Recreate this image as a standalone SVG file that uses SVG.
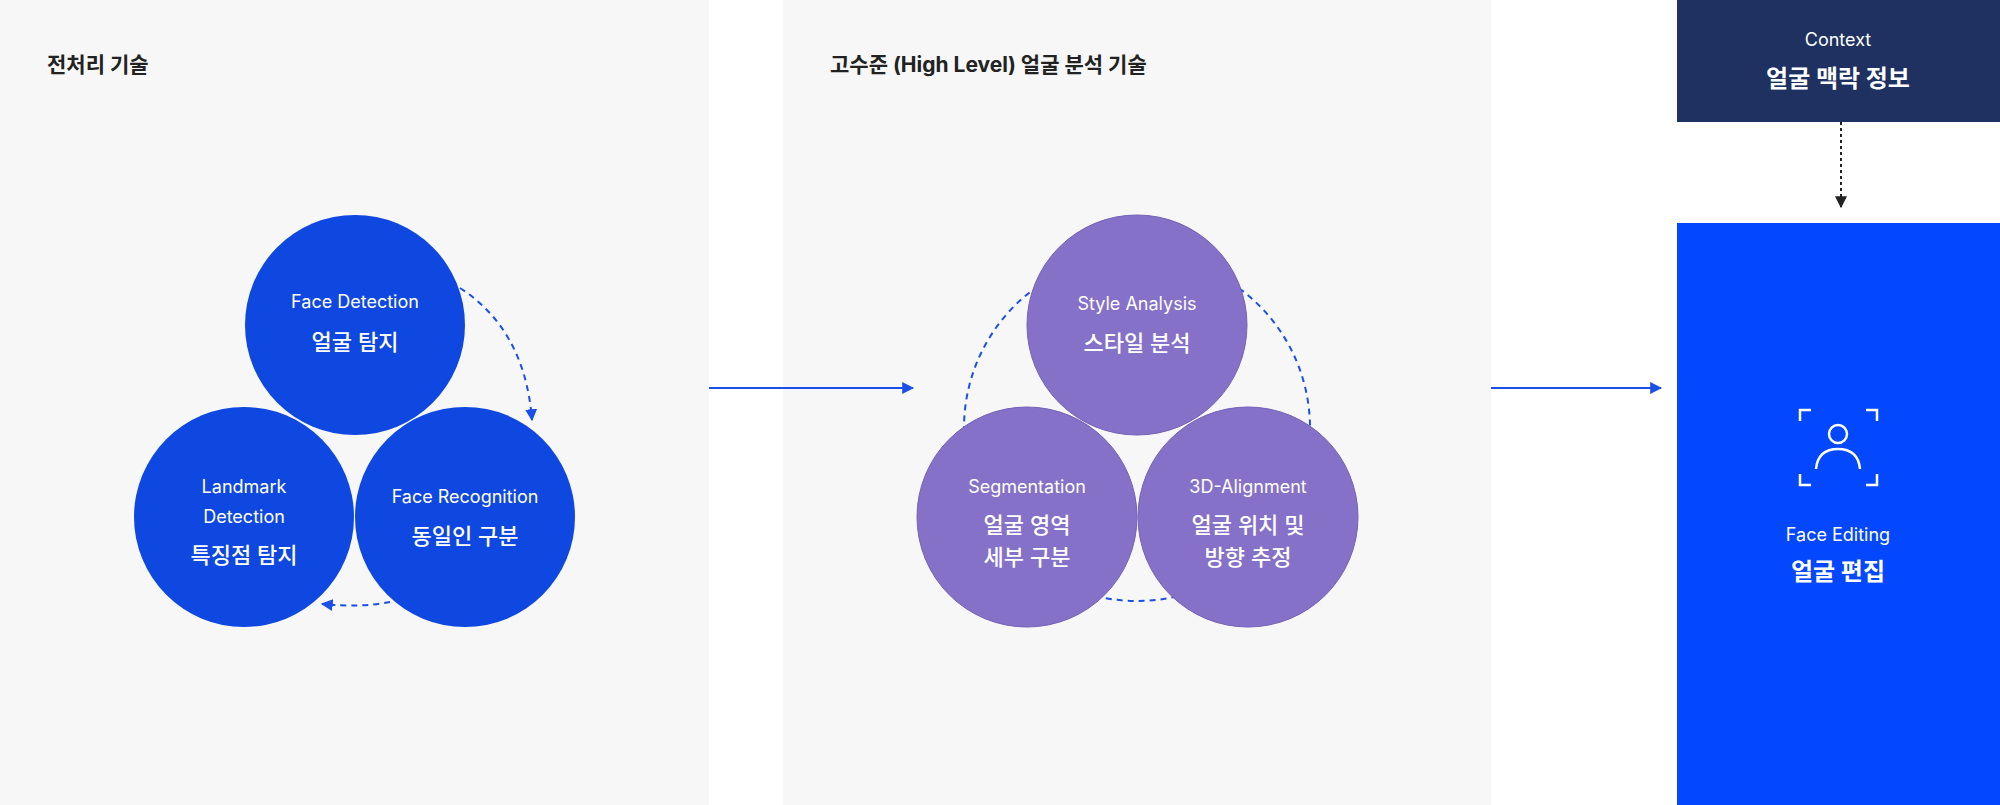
<svg xmlns="http://www.w3.org/2000/svg" width="2000" height="805" viewBox="0 0 2000 805">
<style>
text{font-family:Inter,"Noto Sans","Noto Sans CJK KR",sans-serif;text-anchor:middle;fill:#fff}
.en{font-size:18px}
.ko{font-size:22px;font-weight:500}
.title{font-size:21px;font-weight:700;fill:#222;text-anchor:start}
.c1{fill:#0f48e0}
.c2{fill:#8571c8;stroke:#7561b5;stroke-width:1}
.dash{fill:none;stroke:#1a4fe8;stroke-width:2;stroke-dasharray:6 5}
</style>
<defs>
<marker id="ab" viewBox="0 0 10 10" refX="9" refY="5" markerWidth="6" markerHeight="6" orient="auto"><path d="M0,0L10,5L0,10z" fill="#1a4fe8"/></marker>
<marker id="ak" viewBox="0 0 10 10" refX="9" refY="5" markerWidth="6" markerHeight="6" orient="auto"><path d="M0,0L10,5L0,10z" fill="#222"/></marker>
</defs>
<rect x="0" y="0" width="709" height="805" fill="#f7f7f7"/>
<rect x="783" y="0" width="708" height="805" fill="#f7f7f7"/>
<text class="title" x="47" y="72">전처리 기술</text>
<text class="title" x="830" y="72">고수준 (High Level) 얼굴 분석 기술</text>
<g id="connectors">
<path class="dash" d="M460,288 Q525,330 532,420" marker-end="url(#ab)"/>
<path class="dash" d="M390,602 Q360,608 322,604" marker-end="url(#ab)"/>
<circle class="dash" cx="1137" cy="428" r="173"/>
<line x1="709" y1="388" x2="913" y2="388" stroke="#1a4fe8" stroke-width="2" marker-end="url(#ab)"/>
<line x1="1491" y1="388" x2="1661" y2="388" stroke="#1a4fe8" stroke-width="2" marker-end="url(#ab)"/>
<line x1="1841" y1="122" x2="1841" y2="207" stroke="#222" stroke-width="2" stroke-dasharray="3 3" marker-end="url(#ak)"/>
</g>
<g id="face-detection"><circle class="c1" cx="355" cy="325" r="110"/><text class="en" x="355" y="308">Face Detection</text><text class="ko" x="355" y="350">얼굴 탐지</text></g>
<g id="landmark"><circle class="c1" cx="244" cy="517" r="110"/><text class="en" x="244" y="493">Landmark</text><text class="en" x="244" y="523">Detection</text><text class="ko" x="244" y="563">특징점 탐지</text></g>
<g id="face-recognition"><circle class="c1" cx="465" cy="517" r="110"/><text class="en" x="465" y="503">Face Recognition</text><text class="ko" x="465" y="544">동일인 구분</text></g>
<g id="style"><circle class="c2" cx="1137" cy="325" r="110"/><text class="en" x="1137" y="310">Style Analysis</text><text class="ko" x="1137" y="351">스타일 분석</text></g>
<g id="segmentation"><circle class="c2" cx="1027" cy="517" r="110"/><text class="en" x="1027" y="493">Segmentation</text><text class="ko" x="1027" y="533">얼굴 영역</text><text class="ko" x="1027" y="565">세부 구분</text></g>
<g id="alignment"><circle class="c2" cx="1248" cy="517" r="110"/><text class="en" x="1248" y="493">3D-Alignment</text><text class="ko" x="1248" y="533">얼굴 위치 및</text><text class="ko" x="1248" y="565">방향 추정</text></g>
<g id="context"><rect x="1677" y="0" width="323" height="122" fill="#1e3160"/><text class="en" x="1838" y="46">Context</text><text class="ko" x="1838" y="87" style="font-weight:700;font-size:24px">얼굴 맥락 정보</text></g>
<g id="face-editing"><rect x="1677" y="223" width="323" height="582" fill="#0347fe"/>
<g fill="none" stroke="#fff" stroke-width="2.5">
<path d="M1800,421V410H1811M1866,410H1877V421M1800,474V485H1811M1866,485H1877V474"/>
<circle cx="1838" cy="434" r="9"/>
<path d="M1816,469Q1818,449 1838,449Q1858,449 1860,469"/>
</g>
<text class="en" x="1838" y="541">Face Editing</text><text class="ko" x="1838" y="580" style="font-weight:700;font-size:24px">얼굴 편집</text></g>
</svg>
